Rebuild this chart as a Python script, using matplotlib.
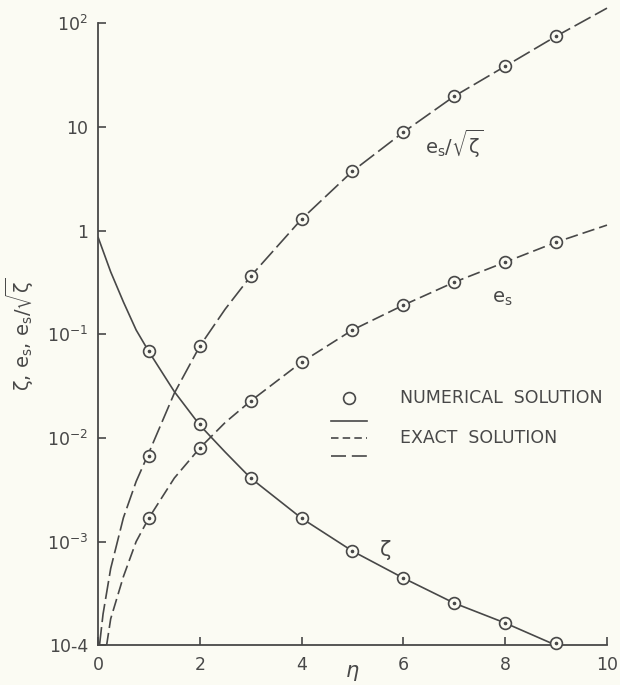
import numpy as np
import matplotlib
matplotlib.use('Agg')
import matplotlib.pyplot as plt
from matplotlib.lines import Line2D

plt.rcParams['font.family'] = ['DejaVu Sans']
plt.rcParams['mathtext.default'] = 'regular'

# ── Data ───────────────────────────────────────────────────────────────────
# numerical solution (circles)
eta_num   = [1, 2, 3, 4, 5, 6, 7, 8, 9]
zeta_num  = [0.0687, 0.0136, 0.00409, 0.00169, 8.1e-4, 4.45e-4, 2.55e-4, 1.64e-4, 1.05e-4]
es_num    = [1.69e-3, 7.98e-3, 0.0227, 0.0538, 0.110, 0.191, 0.318, 0.496, 0.773]
ratio_num = [6.68e-3, 0.0767, 0.363, 1.29, 3.74, 8.9, 19.8, 38.5, 75.0]

# exact solution (lines)
eta_zeta   = [0, 0.25, 0.5, 0.75, 1, 1.5, 2, 2.5, 3, 4, 5, 6, 7, 8, 9]
zeta_exact = [0.87, 0.40, 0.205, 0.11, 0.068, 0.028, 0.0133, 0.0073, 0.0041,
              0.00168, 8.1e-4, 4.45e-4, 2.55e-4, 1.64e-4, 1.0e-4]

eta_es   = [0.17, 0.25, 0.5, 0.75, 1, 1.5, 2, 2.5, 3, 4, 5, 6, 7, 8, 9, 10]
es_exact = [1.0e-4, 1.8e-4, 4.6e-4, 1.0e-3, 1.69e-3, 4.1e-3, 7.98e-3, 0.0141,
            0.0227, 0.0538, 0.110, 0.191, 0.318, 0.496, 0.773, 1.13]

eta_ratio   = [0.03, 0.1, 0.25, 0.5, 0.75, 1, 1.5, 2, 2.5, 3, 4, 5, 6, 7, 8, 9, 10]
ratio_exact = [1.0e-4, 2.0e-4, 5.5e-4, 1.7e-3, 3.8e-3, 7.2e-3, 0.027, 0.0767, 0.175,
               0.363, 1.29, 3.74, 8.9, 19.8, 38.5, 75.0, 140.0]

yticks      = [1e-4, 1e-3, 1e-2, 1e-1, 1, 10, 100]
ytick_text  = ['10-4', '10$^{-3}$', '10$^{-2}$', '10$^{-1}$', '1', '10', '10$^{2}$']
xticks      = [0, 2, 4, 6, 8, 10]

# ── Plot ───────────────────────────────────────────────────────────────────
ink = '#484848'
paper = '#fbfbf3'
lw = 1.2
dash_es = (0, (7.5, 3))
dash_ratio = (0, (11, 3))

fig = plt.figure(figsize=(6.2, 6.85), dpi=100, facecolor=paper)
ax = fig.add_axes([0.158, 0.058, 0.821, 0.908], facecolor=paper)

ax.plot(eta_zeta, zeta_exact, color=ink, lw=lw, solid_capstyle='butt')
ax.plot(eta_es, es_exact, color=ink, lw=lw, linestyle=dash_es, clip_on=False)
ax.plot(eta_ratio, ratio_exact, color=ink, lw=lw, linestyle=dash_ratio, clip_on=False)

for yv in (zeta_num, es_num, ratio_num):
    ax.plot(eta_num, yv, 'o', ms=8.5, mfc=paper, mec=ink, mew=1.2,
            linestyle='none', clip_on=False, zorder=3)
    ax.plot(eta_num, yv, 'o', ms=1.6, mfc=ink, mec=ink,
            linestyle='none', clip_on=False, zorder=4)

ax.set_yscale('log')
ax.set_xlim(0, 10)
ax.set_ylim(1e-4, 1e2)

ax.set_yticks(yticks)
ax.set_yticklabels(ytick_text)
ax.yaxis.set_minor_locator(matplotlib.ticker.NullLocator())
ax.set_xticks(xticks)
ax.set_xticklabels([str(v) for v in xticks])

for s in ('top', 'right'):
    ax.spines[s].set_visible(False)
for s in ('left', 'bottom'):
    ax.spines[s].set_color(ink)
    ax.spines[s].set_linewidth(1.3)

ax.tick_params(axis='both', direction='in', length=6, width=1.2, color=ink,
               labelcolor=ink, labelsize=12.5)
ax.tick_params(axis='y', pad=7)
ax.tick_params(axis='x', pad=8)

ax.set_ylabel(r'$\zeta$, e$_s$, e$_s$/$\sqrt{\zeta}$', fontsize=14, color=ink)
ax.yaxis.set_label_coords(-0.122, 0.5)
ax.set_xlabel(r'$\eta$', fontsize=15, color=ink, fontstyle='italic')
ax.xaxis.set_label_coords(0.5, -0.028)

# curve labels
ax.text(7.0, 6.9, r'e$_s$/$\sqrt{\zeta}$', fontsize=14, color=ink, ha='center', va='center')
ax.text(7.95, 0.22, r'e$_s$', fontsize=14, color=ink, ha='center', va='center')
ax.text(5.65, 8.3e-4, r'$\zeta$', fontsize=15, color=ink, ha='center', va='center')

# legend drawn by hand
tr = ax.transAxes
ax.add_line(Line2D([0.493], [0.397], marker='o', ms=8.5, mfc=paper, mec=ink, mew=1.2,
                   transform=tr))
ax.add_line(Line2D([0.458, 0.528], [0.360, 0.360], color=ink, lw=lw, transform=tr))
ax.add_line(Line2D([0.458, 0.528], [0.333, 0.333], color=ink, lw=lw,
                   linestyle=(0, (4.5, 2.5)), transform=tr))
ax.add_line(Line2D([0.458, 0.528], [0.304, 0.304], color=ink, lw=lw,
                   linestyle=(0, (9, 3.5)), transform=tr))
ax.text(0.593, 0.397, 'NUMERICAL  SOLUTION', transform=tr, fontsize=12.5,
        color=ink, va='center', ha='left')
ax.text(0.593, 0.333, 'EXACT  SOLUTION', transform=tr, fontsize=12.5,
        color=ink, va='center', ha='left')

fig.savefig('out.png', dpi=100, facecolor=paper)
plt.close(fig)
